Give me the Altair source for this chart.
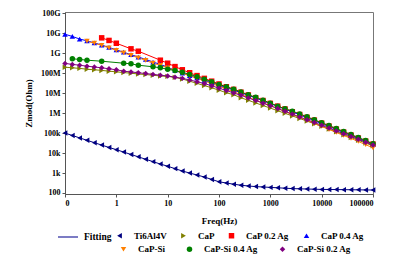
import altair as alt
import pandas as pd

# frequency grid (Hz), 7 points per decade from 0.1 Hz to 100 kHz
freq = [0.1, 0.139, 0.193, 0.268, 0.373, 0.518, 0.72,
        1, 1.39, 1.93, 2.68, 3.73, 5.18, 7.2,
        10, 13.9, 19.3, 26.8, 37.3, 51.8, 72,
        100, 139, 193, 268, 373, 518, 720,
        1000, 1390, 1930, 2680, 3730, 5180, 7200,
        10000, 13900, 19300, 26800, 37300, 51800, 72000, 100000]

N = None
ti6al4v = [1.00e5, 7.59e4, 5.75e4, 4.37e4, 3.31e4, 2.51e4, 1.91e4,
           1.48e4, 1.12e4, 8.51e3, 6.46e3, 4.90e3, 3.72e3, 2.82e3,
           2.19e3, 1.66e3, 1.26e3, 1.00e3, 794, 631, 479,
           363, 316, 275, 245, 224, 209, 200,
           191, 182, 174, 166, 162, 158, 155,
           151, 150, 148, 147, 145, 144, 142, 141]
cap = [2.00e8, 1.86e8, 1.74e8, 1.58e8, 1.48e8, 1.38e8, 1.26e8,
       1.17e8, 1.07e8, 1.00e8, 9.12e7, 8.51e7, 7.94e7, 7.24e7,
       6.92e7, 6.17e7, 5.13e7, 3.98e7, 3.09e7, 2.40e7, 1.86e7,
       1.41e7, 1.05e7, 8.32e6, 5.89e6, 4.37e6, 3.24e6, 2.40e6,
       1.78e6, 1.32e6, 9.77e5, 7.24e5, 5.37e5, 3.98e5, 2.95e5,
       2.19e5, 1.58e5, 1.15e5, 8.32e4, 6.03e4, 4.37e4, 3.16e4, 2.29e4]
cap_02ag = [N, N, N, N, N, 5.89e9, 4.37e9,
            3.16e9, N, 1.66e9, 1.26e9, N, N, 4.47e8,
            3.16e8, 2.14e8, 1.48e8, 1.05e8, 7.59e7, 5.50e7, 3.98e7,
            2.88e7, 2.09e7, 1.55e7, 1.12e7, 8.13e6, 5.89e6, 4.27e6,
            3.09e6, 2.24e6, 1.62e6, 1.17e6, 8.51e5, 6.17e5, 4.47e5,
            3.16e5, 2.24e5, 1.58e5, 1.12e5, 7.94e4, 5.62e4, 3.98e4, 2.82e4]
cap_04ag = [8.91e9, 6.92e9, 5.13e9, 4.17e9, 3.31e9, 2.57e9, 1.95e9,
            1.48e9, 1.12e9, 8.51e8, 6.46e8, 4.90e8, 3.63e8, 2.75e8,
            2.00e8, 1.38e8, 1.02e8, 7.59e7, 5.75e7, 4.37e7, 3.31e7,
            2.51e7, 1.91e7, 1.41e7, 1.05e7, 7.76e6, 5.75e6, 4.17e6,
            3.02e6, 2.19e6, 1.58e6, 1.15e6, 8.32e5, 5.89e5, 4.17e5,
            2.95e5, 2.14e5, 1.51e5, 1.07e5, 7.59e4, 5.37e4, 3.80e4, 2.69e4]
cap_si = [N, N, N, 3.98e9, 3.16e9, 2.45e9, 1.86e9,
          1.38e9, 1.05e9, 7.76e8, 5.89e8, 4.37e8, 3.16e8, 2.45e8,
          1.86e8, 1.35e8, 1.00e8, 7.41e7, 5.50e7, 4.07e7, 3.02e7,
          2.24e7, 1.62e7, 1.17e7, 8.51e6, 6.17e6, 4.47e6, 3.24e6,
          2.34e6, 1.70e6, 1.20e6, 8.51e5, 6.03e5, 4.27e5, 3.02e5,
          2.14e5, 1.51e5, 1.07e5, 7.59e4, 5.37e4, 3.80e4, 2.63e4, 1.82e4]
cap_si_04ag = [N, 5.25e8, 4.90e8, 4.47e8, N, 3.98e8, N,
               N, 3.16e8, 2.95e8, 2.51e8, N, 2.09e8, 1.86e8,
               1.58e8, 1.35e8, 1.12e8, 8.71e7, 6.61e7, 5.01e7, 3.72e7,
               2.75e7, 2.09e7, 1.58e7, 1.15e7, 8.32e6, 6.17e6, 4.47e6,
               3.16e6, 2.24e6, 1.66e6, 1.26e6, 9.12e5, 6.61e5, 4.68e5,
               3.31e5, 2.40e5, 1.70e5, 1.20e5, 8.51e4, 6.03e4, 4.27e4, 2.95e4]
cap_si_02ag = [3.09e8, 2.75e8, 2.51e8, 2.24e8, 2.04e8, 1.86e8, 1.66e8,
               1.48e8, 1.26e8, 1.15e8, 1.05e8, 9.55e7, 8.71e7, 7.94e7,
               7.24e7, 6.31e7, 5.50e7, 4.57e7, 3.72e7, 3.02e7, 2.34e7,
               1.78e7, 1.35e7, 1.02e7, 7.76e6, 5.75e6, 4.27e6, 3.16e6,
               2.34e6, 1.70e6, 1.23e6, 8.91e5, 6.46e5, 4.68e5, 3.39e5,
               2.45e5, 1.78e5, 1.29e5, 9.33e4, 6.76e4, 4.90e4, 3.47e4, 2.51e4]

series_names = ["Ti6Al4V", "CaP", "CaP 0.2 Ag", "CaP 0.4 Ag",
                "CaP-Si", "CaP-Si 0.4 Ag", "CaP-Si 0.2 Ag"]
series_values = [ti6al4v, cap, cap_02ag, cap_04ag, cap_si, cap_si_04ag, cap_si_02ag]
series_colors = ["#000080", "#808000", "#FF0000", "#0000FF",
                 "#FF8000", "#008000", "#800080"]
series_shapes = ["triangle-left", "triangle-right", "square", "triangle-up",
                 "triangle-down", "circle", "diamond"]

x_ticks = [0.1, 1, 10, 100, 1000, 10000, 100000]
x_labels = ["0", "1", "10", "100", "1000", "10000", "100000"]
y_ticks = [1e2, 1e3, 1e4, 1e5, 1e6, 1e7, 1e8, 1e9, 1e10, 1e11]
y_labels = ["100", "1k", "10k", "100k", "1M", "10M", "100M", "1G", "10G", "100G"]

rows = []
for name, vals in zip(series_names, series_values):
    for f, z in zip(freq, vals):
        if z is not None:
            rows.append({"series": name, "freq": f, "z": z, "fit": "Fitting"})
df = pd.DataFrame(rows)

FONT = "Liberation Serif"

x_expr = "[" + ",".join("'%s'" % s for s in x_labels) + "][round(log(datum.value)/LN10)+1]"
y_expr = "[" + ",".join("'%s'" % s for s in y_labels) + "][round(log(datum.value)/LN10)-2]"

x_enc = alt.X("freq:Q",
              scale=alt.Scale(type="log", domain=[0.1, 100000], nice=False),
              axis=alt.Axis(values=x_ticks, labelExpr=x_expr, title="Freq(Hz)",
                            grid=False, titlePadding=9))
y_enc = alt.Y("z:Q",
              scale=alt.Scale(type="log", domain=[89, 1.16e11], nice=False),
              axis=alt.Axis(values=y_ticks, labelExpr=y_expr, title="Zmod(Ohm)",
                            grid=False, titlePadding=7))


def make_legend(x, y, pad):
    return alt.Legend(
        title=None, orient="none", legendX=x, legendY=y, columns=4,
        direction="horizontal", labelFont=FONT, labelFontWeight="bold",
        labelFontSize=9, symbolSize=30, columnPadding=pad, labelOffset=10,
        padding=0, symbolStrokeWidth=0)


fit_legend = alt.Legend(title=None, orient="none", legendX=-8, legendY=214,
                        symbolType="stroke", symbolStrokeColor="#5050B0",
                        symbolStrokeWidth=1.5, symbolSize=400,
                        labelFont=FONT, labelFontWeight="bold",
                        labelFontSize=9.5, labelOffset=5, padding=0)

base = alt.Chart(df)

line_layers = []
for name, col in zip(series_names, series_colors):
    line_layers.append(
        base.transform_filter(alt.datum.series == name).mark_line(strokeWidth=1).encode(
            x=x_enc, y=y_enc,
            stroke=alt.value(col),
            opacity=alt.Opacity("fit:N", scale=alt.Scale(domain=["Fitting"], range=[0.7]),
                                legend=fit_legend),
            order="freq:Q",
        )
    )

groups = [(series_names[:4], series_colors[:4], series_shapes[:4], make_legend(50, 219, 12)),
          (series_names[4:], series_colors[4:], series_shapes[4:], make_legend(54, 232.5, 20))]
point_layers = []
for names, cols, shps, leg in groups:
    point_layers.append(
        base.transform_filter(alt.FieldOneOfPredicate(field="series", oneOf=names))
        .mark_point(filled=True, size=30, opacity=1).encode(
            x=x_enc, y=y_enc,
            color=alt.Color("series:N", scale=alt.Scale(domain=names, range=cols), legend=leg),
            shape=alt.Shape("series:N", scale=alt.Scale(domain=names, range=shps), legend=leg),
        )
    )

chart = alt.layer(*line_layers, *point_layers).resolve_scale(
    color="independent", shape="independent"
).properties(
    width=308, height=182,
    autosize=alt.AutoSizeParams(type="none"),
    padding={"left": 65, "top": 12, "right": 21, "bottom": 73},
    background="white",
).configure_view(
    stroke="#777777", strokeWidth=1
).configure_axis(
    labelFont=FONT, labelFontWeight="bold", labelFontSize=8, labelColor="black",
    titleFont=FONT, titleFontWeight="bold", titleFontSize=9, titleColor="black",
    domainColor="#555555", tickColor="#555555", tickSize=3, labelPadding=2,
)

chart.save("out.html", embed_options={"renderer": "svg", "actions": False})
